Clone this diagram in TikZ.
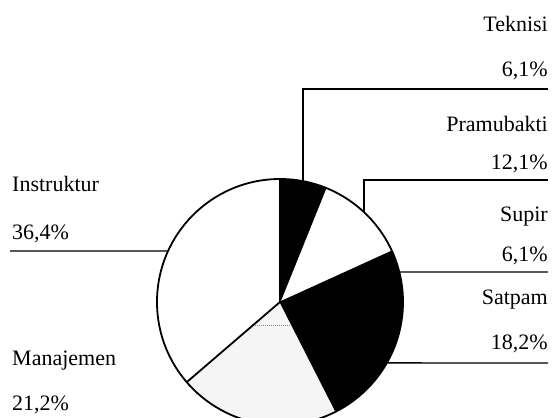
\documentclass[tikz,border=0pt]{standalone}
\usepackage{fontspec}
\setmainfont{Liberation Serif}
\usetikzlibrary{calc}
\begin{document}
\begin{tikzpicture}[x=1pt,y=1pt,
  lbl/.style={font=\fontsize{22}{26}\selectfont, inner sep=0pt},
  rl/.style={lbl, anchor=base east},
  ll/.style={lbl, anchor=base west},
  leader/.style={line width=1.4pt},
  rim/.style={line width=1.8pt},
  ]
\useasboundingbox (0,0) rectangle (552,418);
\clip (0,0) rectangle (552,418);
\def\R{123}
\coordinate (c) at (280,116);
% slices
\fill[black] (c) -- ++(90:\R) arc[start angle=90, end angle=68.04, radius=\R] -- cycle;
\fill[black] (c) -- ++(24.48:\R) arc[start angle=24.48, end angle=-63.0, radius=\R] -- cycle;
\fill[black!4] (c) -- ++(-63.0:\R) arc[start angle=-63.0, end angle=-139.32, radius=\R] -- cycle;
% scan artifact line inside Manajemen slice
\draw[black!45, line width=1pt, densely dotted] (253,92) -- (291,92);
% radial edges
\draw[rim] (c) -- ++(90:\R);
\draw[rim] (c) -- ++(-139.32:\R);
\draw[line width=1pt] (c) -- ++(68.04:\R);
\draw[line width=1pt] (c) -- ++(24.48:\R);
\draw[line width=1pt] (c) -- ++(-63.0:\R);
% rim
\draw[rim] (c) circle[radius=\R];
% edge points for leaders
\coordinate (tekE) at ($(c)+(79.2:\R)$);
\coordinate (praE) at ($(c)+(46.9:\R)$);
\coordinate (supE) at ($(c)+(14.1:\R)$);
\coordinate (satE) at ($(c)+(-29.7:\R)$);
\coordinate (insE) at ($(c)+(155.5:\R)$);
\coordinate (tekR) at (548,329);
\coordinate (praR) at (548,238);
\coordinate (supR) at (548,146);
\coordinate (satR) at (548,55);
\coordinate (insL) at (10,167);
% labels
\node[rl] (tek) at (548,386) {Teknisi};
\node[rl] (tekv) at (548,341) {6,1\%};
\node[rl] (pra) at (548,286) {Pramubakti};
\node[rl] (prav) at (548,248) {12,1\%};
\node[rl] (sup) at (548,196) {Supir};
\node[rl] (supv) at (548,156) {6,1\%};
\node[rl] (sat) at (548,113) {Satpam};
\node[rl] (satv) at (548,68) {18,2\%};
\node[ll] (ins) at (12,226) {Instruktur};
\node[ll] (insv) at (12,178) {36,4\%};
\node[ll] (man) at (12,52) {Manajemen};
\node[ll] (manv) at (12,8) {21,2\%};
% leaders
\draw[leader] (tekE) |- (tekR);
\draw[leader] (praE) |- (praR);
\draw[leader] (supE) -- (supR);
\draw[leader] (satE) -- (satR);
\draw[leader] (insE) -- (insL);
\end{tikzpicture}
\end{document}
